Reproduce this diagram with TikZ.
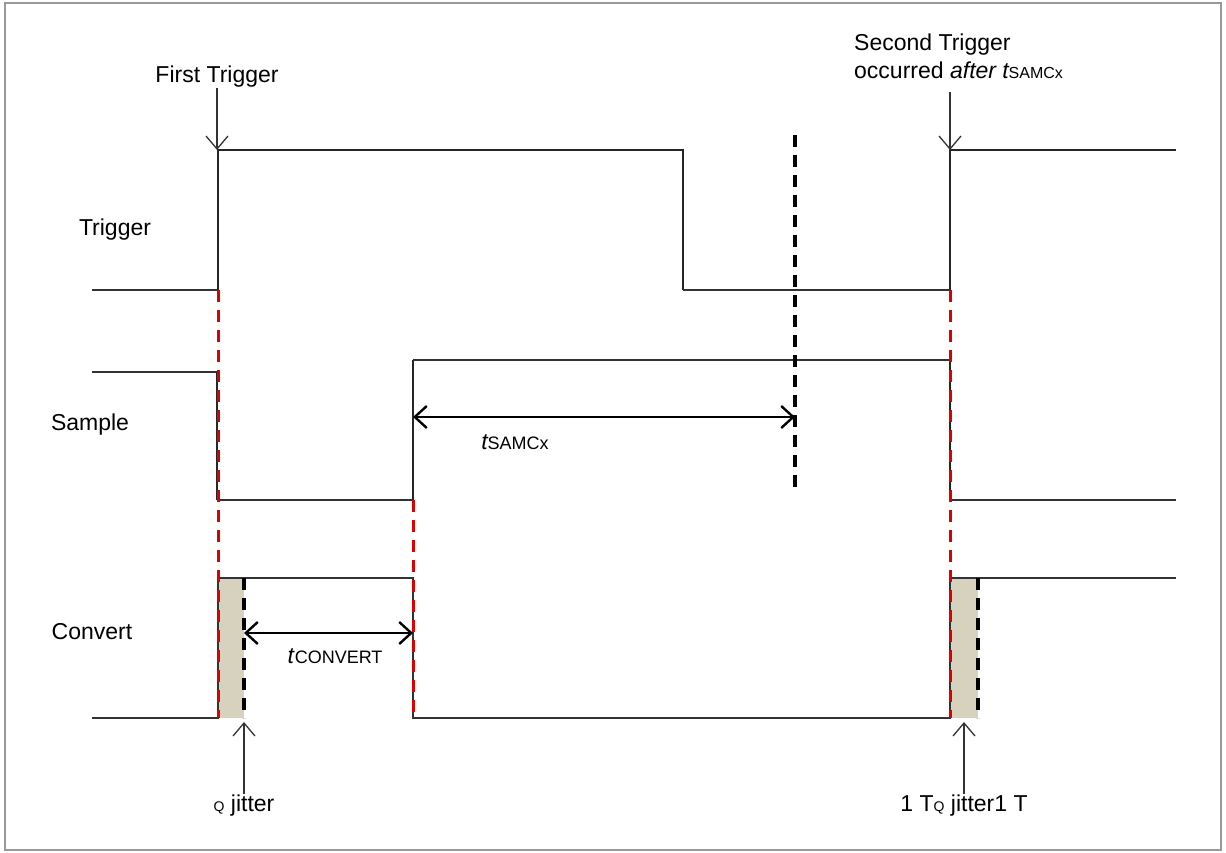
\documentclass[tikz,border=0pt]{standalone}
\usepackage{fontspec}
\setmainfont{Liberation Sans}
\usetikzlibrary{arrows.meta}
\definecolor{jitc}{RGB}{214,210,190}
\begin{document}
\begin{tikzpicture}[x=1pt,y=-1pt,
  sig/.style={line width=2.6pt,black!85},
  thin/.style={line width=1.4pt,black!80},
  red/.style={red!85!black,line width=3pt,dash pattern=on 12pt off 8pt},
  bdash/.style={black,line width=3.4pt,dash pattern=on 12pt off 8pt},
  jit/.style={fill=jitc,draw=none},
  lab/.style={font=\fontsize{23}{28}\selectfont,inner sep=1pt},
  arr/.style={-{Straight Barb[length=13pt,width=22pt]},line width=1.3pt,black!80},
  darr/.style={{Straight Barb[length=12pt,width=22pt]}-{Straight Barb[length=12pt,width=22pt]},line width=2.4pt}]
\useasboundingbox (0,0) rectangle (1226,853);
\draw[black!40,line width=1.5pt] (5,3) rectangle (1221,850);
% jitter boxes
\fill[jit] (218,578) rectangle (244,718);
\fill[jit] (950,578) rectangle (978,718);
% Trigger
\draw[thin] (92,290) -- (218,290);
\draw[sig] (218,290) -- (218,150) -- (683,150) -- (683,290);
\draw[thin] (683,290) -- (950,290);
\draw[sig] (950,290) -- (950,150) -- (1176,150);
% Sample
\draw[thin] (92,372) -- (217,372);
\draw[sig] (217,372) -- (217,500);
\draw[thin] (217,500) -- (413,500);
\draw[sig] (413,500) -- (413,360);
\draw[thin] (413,360) -- (950,360);
\draw[sig] (950,360) -- (950,500);
\draw[thin] (950,500) -- (1176,500);
% Convert
\draw[thin] (92,718) -- (218,718) -- (218,578) -- (413,578) -- (413,718) -- (950,718) -- (950,578) -- (1176,578);
% red dashed
\draw[red] (218,290) -- (218,718);
\draw[red] (413,500) -- (413,718);
\draw[red] (950,290) -- (950,718);
% black dashed
\draw[bdash] (244,578) -- (244,718);
\draw[bdash] (978,578) -- (978,718);
\draw[bdash] (795,135) -- (795,490);
% nodes
\node[lab] (trig) at (115,230) {Trigger};
\node[lab] (samp) at (90,425) {Sample};
\node[lab] (conv) at (92,632) {Convert};
\node[lab,anchor=south] (first) at (217,88) {First Trigger};
\node[lab,anchor=south west,align=left] (second) at (853,80) {Second Trigger\\occurred \textit{after t}\kern-1pt{\fontsize{16}{19}\selectfont SAMCx}};
\node[lab] (tsam) at (515,442) {\textit{t}\kern-1pt{\fontsize{18}{21}\selectfont SAMCx}};
\node[lab] (tconv) at (335,656) {\textit{t}{\fontsize{18}{21}\selectfont CONVERT}};
\node[lab,anchor=north] (qj) at (244,794) {{\fontsize{14}{16}\selectfont Q} jitter};
\node[lab,anchor=north] (qj2) at (964,794) {1 T{\fontsize{14}{16}\selectfont Q} jitter1 T};
\coordinate (t1) at (217,150);
\coordinate (t2) at (950,150);
\coordinate (s1) at (413,417);
\coordinate (s2) at (795,417);
\coordinate (c1) at (244,633);
\coordinate (c2) at (413,633);
\coordinate (j1) at (244,722);
\coordinate (j2) at (964,722);
\draw[arr] (first.south) -- (t1);
\draw[arr] (950,92) -- (t2);
\draw[darr] (s1) -- (s2);
\draw[darr] (c1) -- (c2);
\draw[arr] (qj.north) -- (j1);
\draw[arr] (qj2.north) -- (j2);
\end{tikzpicture}
\end{document}
